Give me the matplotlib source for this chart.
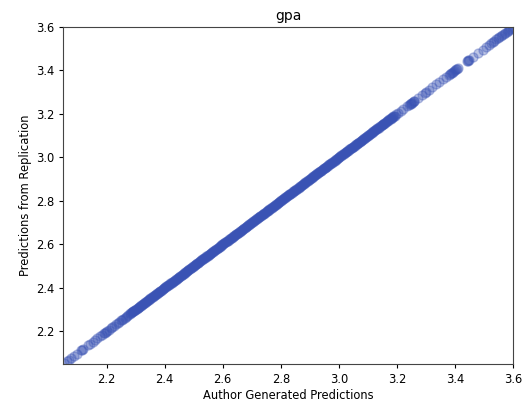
import matplotlib
matplotlib.use("Agg")
import matplotlib.pyplot as plt

# Author generated predictions (x)
sparse_low = [2.052, 2.062, 2.069, 2.078, 2.086, 2.097, 2.112, 2.116, 2.119, 2.135,
              2.142, 2.152, 2.159, 2.168, 2.176, 2.183, 2.190, 2.194, 2.197, 2.200,
              2.208, 2.215, 2.219, 2.226, 2.232, 2.238, 2.243, 2.250, 2.254, 2.257,
              2.262, 2.266, 2.271, 2.275]

dense_a = [
    2.280, 2.284, 2.289, 2.292, 2.297, 2.301, 2.307, 2.311, 2.316, 2.320,
    2.325, 2.330, 2.333, 2.338, 2.342, 2.347, 2.351, 2.357, 2.361, 2.366,
    2.370, 2.374, 2.379, 2.383, 2.387, 2.393, 2.397, 2.402, 2.406, 2.411,
    2.415, 2.420, 2.424, 2.428, 2.433, 2.438, 2.442, 2.447, 2.451, 2.456,
    2.460, 2.465, 2.469, 2.474, 2.478, 2.482, 2.487, 2.492, 2.496, 2.501,
    2.505, 2.509, 2.514, 2.518, 2.523, 2.528, 2.532, 2.537, 2.541, 2.546,
    2.550, 2.555, 2.559, 2.563, 2.568, 2.573, 2.577, 2.582, 2.586, 2.591,
    2.595, 2.599, 2.604, 2.609, 2.613, 2.617, 2.622, 2.627, 2.631, 2.636,
    2.640, 2.645, 2.649, 2.653, 2.658, 2.663, 2.667, 2.671, 2.676, 2.681,
    2.685, 2.689, 2.694, 2.699, 2.703, 2.707, 2.712, 2.717, 2.721, 2.726,
    2.730, 2.735, 2.739, 2.743, 2.748, 2.753, 2.757, 2.761, 2.766, 2.771,
    2.775, 2.779, 2.784, 2.789, 2.793, 2.797, 2.802, 2.807, 2.811, 2.816,
    2.820, 2.825, 2.829, 2.833, 2.838, 2.843, 2.847, 2.851, 2.856, 2.861,
    2.865, 2.869, 2.874, 2.879, 2.883, 2.887, 2.892, 2.897, 2.901, 2.906,
    2.910, 2.915, 2.919, 2.923, 2.928, 2.933, 2.937, 2.941, 2.946, 2.951,
    2.955, 2.959, 2.964, 2.969, 2.973, 2.977, 2.982, 2.987, 2.991, 2.996,
    3.000, 3.005, 3.009, 3.013, 3.018, 3.023, 3.027, 3.031, 3.036, 3.041,
    3.045, 3.049, 3.054, 3.059, 3.063, 3.067, 3.072, 3.077, 3.081, 3.086,
    3.090, 3.095, 3.099, 3.103, 3.108, 3.113, 3.117, 3.121, 3.126, 3.131,
    3.135, 3.139, 3.144, 3.149, 3.153, 3.157, 3.162, 3.167, 3.171, 3.176,
    3.180, 3.184, 3.188, 3.192,
]

dense_b = [
    2.282, 2.287, 2.291, 2.295, 2.299, 2.304, 2.309, 2.313, 2.318, 2.323,
    2.327, 2.331, 2.336, 2.340, 2.345, 2.349, 2.354, 2.359, 2.363, 2.368,
    2.372, 2.377, 2.381, 2.385, 2.390, 2.395, 2.399, 2.404, 2.408, 2.413,
    2.418, 2.422, 2.426, 2.431, 2.436, 2.440, 2.445, 2.449, 2.454, 2.458,
    2.463, 2.467, 2.471, 2.476, 2.480, 2.485, 2.490, 2.494, 2.499, 2.503,
    2.507, 2.512, 2.516, 2.521, 2.526, 2.530, 2.535, 2.539, 2.544, 2.548,
    2.552, 2.557, 2.561, 2.566, 2.571, 2.575, 2.580, 2.584, 2.589, 2.593,
    2.597, 2.602, 2.606, 2.611, 2.615, 2.620, 2.625, 2.629, 2.634, 2.638,
    2.642, 2.647, 2.651, 2.656, 2.661, 2.665, 2.669, 2.674, 2.679, 2.683,
    2.687, 2.692, 2.697, 2.701, 2.705, 2.710, 2.715, 2.719, 2.724, 2.728,
    2.732, 2.737, 2.741, 2.746, 2.751, 2.755, 2.759, 2.764, 2.769, 2.773,
    2.777, 2.782, 2.787, 2.791, 2.795, 2.800, 2.805, 2.809, 2.814, 2.818,
    2.822, 2.827, 2.831, 2.836, 2.841, 2.845, 2.849, 2.854, 2.859, 2.863,
    2.867, 2.872, 2.877, 2.881, 2.885, 2.890, 2.895, 2.899, 2.904, 2.908,
    2.912, 2.917, 2.921, 2.926, 2.931, 2.935, 2.939, 2.944, 2.949, 2.953,
    2.957, 2.962, 2.967, 2.971, 2.975, 2.980, 2.985, 2.989, 2.994, 2.998,
    3.002, 3.007, 3.011, 3.016, 3.021, 3.025, 3.029, 3.034, 3.039, 3.043,
    3.047, 3.052, 3.057, 3.061, 3.065, 3.070, 3.075, 3.079, 3.084, 3.088,
    3.092, 3.097, 3.101, 3.106, 3.111, 3.115, 3.119, 3.124, 3.129, 3.133,
    3.137, 3.142, 3.147, 3.151, 3.155, 3.160, 3.165, 3.169, 3.174, 3.178,
    3.182, 3.186, 3.190,
]

sparse_high = [3.198, 3.205, 3.214, 3.222, 3.236, 3.240, 3.244, 3.247, 3.250, 3.252,
               3.255, 3.258, 3.260, 3.272, 3.285, 3.296, 3.299, 3.310, 3.322, 3.335,
               3.346, 3.358, 3.368, 3.378, 3.383, 3.386, 3.390, 3.393, 3.397, 3.401,
               3.404, 3.407, 3.411, 3.441, 3.444, 3.446, 3.449, 3.462, 3.478, 3.495,
               3.508, 3.516, 3.524, 3.530, 3.536, 3.542, 3.548, 3.553, 3.558, 3.563,
               3.568, 3.573, 3.578, 3.583, 3.587, 3.591, 3.595, 3.599]

author_preds = sparse_low + dense_a + dense_b + sparse_high
# Replication predictions coincide with the author's
replication_preds = list(author_preds)

x_ticks = [2.2, 2.4, 2.6, 2.8, 3.0, 3.2, 3.4, 3.6]
y_ticks = [2.2, 2.4, 2.6, 2.8, 3.0, 3.2, 3.4, 3.6]

fig = plt.figure(figsize=(5.30, 4.07), dpi=100)
ax = fig.add_axes([0.119, 0.106, 0.849, 0.828])
ax.scatter(author_preds, replication_preds, s=42, color="#3A53B4", alpha=0.33)
ax.set_xlim(2.05, 3.6)
ax.set_ylim(2.05, 3.6)
ax.set_xticks(x_ticks)
ax.set_yticks(y_ticks)
ax.set_xticklabels([f"{t:.1f}" for t in x_ticks])
ax.set_yticklabels([f"{t:.1f}" for t in y_ticks])
ax.tick_params(labelsize=8.3, length=3)
ax.set_xlabel("Author Generated Predictions", fontsize=8.3, labelpad=2)
ax.set_ylabel("Predictions from Replication", fontsize=8.3, labelpad=3)
ax.set_title("gpa", fontsize=10, pad=5)
for sp in ax.spines.values():
    sp.set_color("#444444")
fig.savefig("out.png", dpi=100)
